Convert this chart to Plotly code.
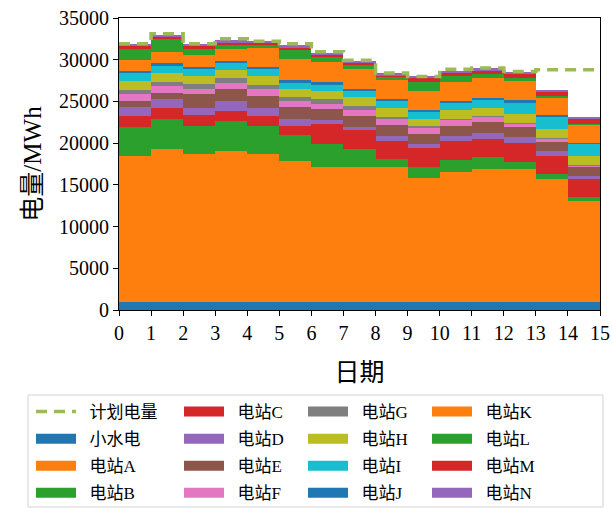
import plotly.graph_objects as go

# Daily generation by station (MWh), days 0..14
days = list(range(15))
day_ticks = list(range(16))

small_hydro = [1000] * 15
station_A = [17450, 18250, 17700, 18050, 17700, 16850, 16100, 16150, 16100, 14800, 15600, 15850, 15900, 14700, 12100]
station_B = [3500, 3600, 3400, 3550, 3400, 3100, 2800, 2100, 950, 1300, 1350, 1450, 900, 550, 400]
station_C = [1300, 1350, 1250, 1250, 1200, 1100, 2400, 2300, 2250, 2300, 2300, 2250, 2250, 2250, 2250]
station_D = [1050, 1050, 900, 1200, 900, 800, 500, 400, 550, 500, 650, 650, 650, 550, 300]
station_E = [800, 800, 1600, 1500, 1450, 1450, 1250, 1350, 1300, 1200, 1200, 1300, 1200, 1100, 1200]
station_F = [800, 800, 700, 700, 800, 700, 700, 700, 700, 700, 700, 650, 400, 400, 80]
station_G = [500, 500, 500, 500, 500, 500, 500, 500, 250, 250, 150, 150, 150, 80, 40]
station_H = [1050, 1050, 1050, 1050, 1050, 1050, 1050, 1050, 1100, 900, 1050, 950, 1050, 1050, 1100]
station_I = [900, 900, 800, 800, 900, 700, 700, 650, 800, 800, 800, 900, 1350, 1500, 1500]
station_J = [250, 300, 250, 300, 250, 300, 300, 300, 250, 250, 300, 300, 300, 150, 80]
station_K = [1350, 1350, 1450, 1350, 2300, 2500, 2400, 2350, 2300, 2250, 2250, 2300, 2250, 2150, 2150]
station_L = [1350, 1500, 700, 550, 300, 1100, 650, 500, 400, 1050, 700, 550, 400, 150, 150]
station_M = [300, 300, 300, 250, 250, 300, 250, 250, 150, 500, 400, 400, 500, 500, 500]
station_N = [250, 250, 250, 300, 250, 300, 250, 250, 250, 250, 250, 250, 250, 150, 250]

# Planned energy per day (MWh)
plan = [31900, 33100, 31900, 32500, 32200, 31900, 30950, 29950, 28400, 28000, 28850, 29000, 28600, 28800, 28800]

series = [
    ("小水电", small_hydro, "#1f77b4"),
    ("电站A", station_A, "#ff7f0e"),
    ("电站B", station_B, "#2ca02c"),
    ("电站C", station_C, "#d62728"),
    ("电站D", station_D, "#9467bd"),
    ("电站E", station_E, "#8c564b"),
    ("电站F", station_F, "#e377c2"),
    ("电站G", station_G, "#7f7f7f"),
    ("电站H", station_H, "#bcbd22"),
    ("电站I", station_I, "#17becf"),
    ("电站J", station_J, "#1f77b4"),
    ("电站K", station_K, "#ff7f0e"),
    ("电站L", station_L, "#2ca02c"),
    ("电站M", station_M, "#d62728"),
    ("电站N", station_N, "#9467bd"),
]

# four legend columns, read top to bottom
legend_columns = [
    ["计划电量", "小水电", "电站A", "电站B"],
    ["电站C", "电站D", "电站E", "电站F"],
    ["电站G", "电站H", "电站I", "电站J"],
    ["电站K", "电站L", "电站M", "电站N"],
]
legend_ids = ["legend", "legend2", "legend3", "legend4"]
column_of = {}
rank = {}
for ci, col in enumerate(legend_columns):
    for ri, nm in enumerate(col):
        column_of[nm] = legend_ids[ci]
        rank[nm] = ri

FONT = '"Liberation Serif", "Noto Sans CJK SC", serif'
PLAN_COLOR = "#9bbb59"
PAD = "\u00a0\u00a0"

# plot-area geometry in pixels (for placing the legend)
W, H = 612, 508
L, R, T, B = 119, 12, 18, 198
pw, ph = W - L - R, H - T - B


def px_to_paper_x(px):
    return (px - L) / pw


def px_to_paper_y(py):
    return (H - B - py) / ph


fig = go.Figure()

for name, vals, color in series:
    fig.add_trace(go.Bar(
        x=days, y=vals, width=1, offset=0,
        marker=dict(color=color, line=dict(width=0)),
        name=name, showlegend=False,
    ))

fig.add_trace(go.Scatter(
    x=day_ticks, y=plan + [plan[-1]], mode="lines",
    line=dict(color=PLAN_COLOR, width=3.5, dash="11px,7px", shape="hv"),
    name=PAD + "计划电量", legend=column_of["计划电量"],
    legendrank=rank["计划电量"], legendgroup="计划电量",
))

# patch-style legend entries for the stacked layers
for name, vals, color in series:
    fig.add_trace(go.Scatter(
        x=[None], y=[None], mode="lines",
        line=dict(color=color, width=14),
        name=PAD + name, legend=column_of[name],
        legendrank=rank[name], legendgroup=name,
    ))

# legend frame
fig.add_shape(type="rect", xref="paper", yref="paper",
              x0=px_to_paper_x(28), x1=px_to_paper_x(603),
              y0=px_to_paper_y(507), y1=px_to_paper_y(395),
              line=dict(color="#d3d3d3", width=1), fillcolor="rgba(0,0,0,0)")

legend_x_px = [31, 179, 303, 427]
legend_common = dict(
    orientation="v", yanchor="top", xanchor="left",
    font=dict(size=17, family=FONT),
    borderwidth=0, bgcolor="rgba(0,0,0,0)",
    itemwidth=40, tracegroupgap=2, traceorder="grouped",
)
legends = {}
for lid, xp in zip(legend_ids, legend_x_px):
    legends[lid] = dict(x=px_to_paper_x(xp), y=px_to_paper_y(394), **legend_common)

fig.update_layout(
    width=W, height=H,
    margin=dict(l=L, r=R, t=T, b=B, autoexpand=False),
    barmode="stack", bargap=0,
    plot_bgcolor="white", paper_bgcolor="white",
    font=dict(family=FONT, color="black", size=18),
    showlegend=True,
    **legends,
)

fig.update_xaxes(
    range=[0, 15], tickmode="array", tickvals=day_ticks,
    ticks="outside", ticklen=5, tickcolor="black",
    showline=True, linecolor="black", linewidth=1.2, mirror=True,
    showgrid=False, zeroline=False,
    tickfont=dict(size=20),
    title=dict(text="日期", font=dict(size=25), standoff=20),
)
fig.update_yaxes(
    range=[0, 35000], dtick=5000, tickformat="d",
    ticks="outside", ticklen=5, tickcolor="black",
    showline=True, linecolor="black", linewidth=1.2, mirror=True,
    showgrid=False, zeroline=False,
    tickfont=dict(size=20),
    title=dict(text="电量/MWh", font=dict(size=25), standoff=10),
)

fig.write_html("out.html")
